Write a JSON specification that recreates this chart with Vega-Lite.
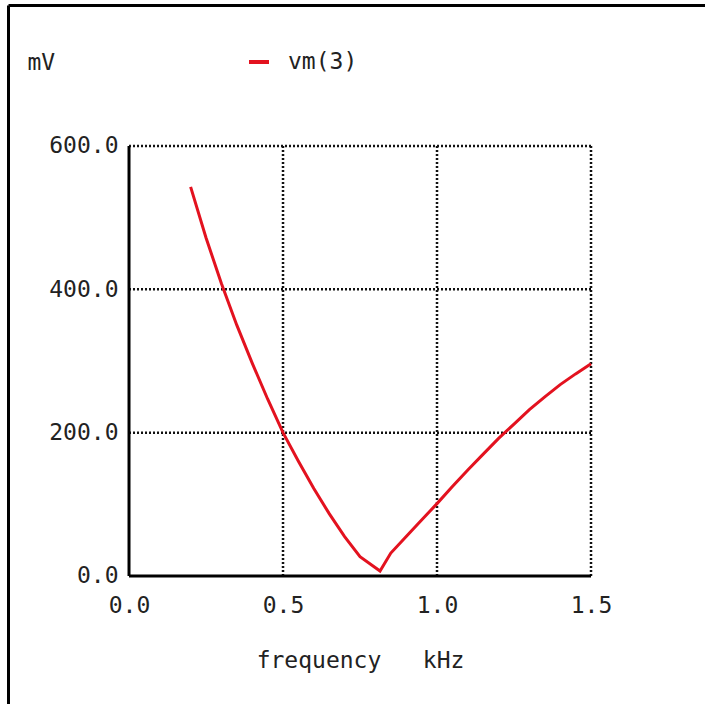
{
  "$schema": "https://vega.github.io/schema/vega-lite/v6.json",
  "autosize": {"type": "none"},
  "width": 697,
  "height": 699,
  "padding": {"left": 8, "top": 5, "right": 0, "bottom": 0},
  "background": "white",
  "config": {"view": {"stroke": null}},
  "datasets": {
    "curve": [
      {"f": 0.2, "mv": 543, "series": "vm(3)"},
      {"f": 0.25, "mv": 472, "series": "vm(3)"},
      {"f": 0.3, "mv": 408, "series": "vm(3)"},
      {"f": 0.35, "mv": 350, "series": "vm(3)"},
      {"f": 0.4, "mv": 297, "series": "vm(3)"},
      {"f": 0.45, "mv": 247, "series": "vm(3)"},
      {"f": 0.5, "mv": 200, "series": "vm(3)"},
      {"f": 0.55, "mv": 160, "series": "vm(3)"},
      {"f": 0.6, "mv": 122, "series": "vm(3)"},
      {"f": 0.65, "mv": 87, "series": "vm(3)"},
      {"f": 0.7, "mv": 55, "series": "vm(3)"},
      {"f": 0.75, "mv": 27, "series": "vm(3)"},
      {"f": 0.815, "mv": 7, "series": "vm(3)"},
      {"f": 0.85, "mv": 32, "series": "vm(3)"},
      {"f": 0.9, "mv": 55, "series": "vm(3)"},
      {"f": 0.95, "mv": 78, "series": "vm(3)"},
      {"f": 1.0, "mv": 101, "series": "vm(3)"},
      {"f": 1.05, "mv": 125, "series": "vm(3)"},
      {"f": 1.1, "mv": 148, "series": "vm(3)"},
      {"f": 1.15, "mv": 170, "series": "vm(3)"},
      {"f": 1.2, "mv": 192, "series": "vm(3)"},
      {"f": 1.25, "mv": 212, "series": "vm(3)"},
      {"f": 1.3, "mv": 232, "series": "vm(3)"},
      {"f": 1.35, "mv": 250, "series": "vm(3)"},
      {"f": 1.4, "mv": 267, "series": "vm(3)"},
      {"f": 1.45, "mv": 282, "series": "vm(3)"},
      {"f": 1.5, "mv": 296, "series": "vm(3)"}
    ],
    "hgrid": [{"mv": 200}, {"mv": 400}, {"mv": 600}],
    "vgrid": [{"f": 0.5}, {"f": 1.0}, {"f": 1.5}],
    "origin": [{"f": 0, "mv": 0}]
  },
  "resolve": {"axis": {"x": "independent", "y": "independent"}},
  "layer": [
    {
      "data": {"name": "hgrid"},
      "mark": {"type": "rule", "color": "#111", "strokeWidth": 2.5, "strokeDash": [2, 2]},
      "encoding": {
        "y": {
          "field": "mv", "type": "quantitative",
          "scale": {"domain": [-178.6, 796.7], "nice": false, "zero": false},
          "axis": {
            "orient": "left", "offset": -120, "values": [0, 200, 400, 600], "format": ".1f",
            "domain": false, "ticks": false, "grid": false, "labelPadding": 10,
            "labelFont": "DejaVu Sans Mono", "labelFontSize": 23, "labelColor": "#222",
            "labelFlush": false, "labelOverlap": false, "labelBaseline": "middle",
            "title": "mV", "titleFont": "DejaVu Sans Mono", "titleFontSize": 23,
            "titleFontWeight": "normal", "titleColor": "#222", "titleAngle": 0,
            "titleAlign": "left", "titleBaseline": "middle", "titleX": -101, "titleY": 57
          }
        },
        "x": {"datum": 0, "type": "quantitative", "axis": null,
          "scale": {"domain": [-0.3929, 1.8701], "nice": false, "zero": false}},
        "x2": {"datum": 1.5}
      }
    },
    {
      "data": {"name": "vgrid"},
      "mark": {"type": "rule", "color": "#111", "strokeWidth": 2.5, "strokeDash": [2, 2]},
      "encoding": {
        "x": {
          "field": "f", "type": "quantitative",
          "scale": {"domain": [-0.3929, 1.8701], "nice": false, "zero": false},
          "axis": {
            "orient": "bottom", "offset": -128, "values": [0, 0.5, 1.0, 1.5], "format": ".1f",
            "domain": false, "ticks": false, "grid": false, "labelPadding": 18,
            "labelFont": "DejaVu Sans Mono", "labelFontSize": 23, "labelColor": "#222",
            "labelFlush": false, "labelOverlap": false,
            "title": "frequency\u00a0\u00a0\u00a0kHz", "titleFont": "DejaVu Sans Mono", "titleFontSize": 23,
            "titleFontWeight": "normal", "titleColor": "#222",
            "titleBaseline": "middle", "titleAlign": "center", "titleX": 352, "titleY": 84
          }
        },
        "y": {"datum": 0, "type": "quantitative", "axis": null,
          "scale": {"domain": [-178.6, 796.7], "nice": false, "zero": false}},
        "y2": {"datum": 600}
      }
    },
    {
      "data": {"name": "origin"},
      "mark": {"type": "rule", "color": "#000", "strokeWidth": 3},
      "encoding": {
        "y": {"field": "mv", "type": "quantitative", "axis": null,
          "scale": {"domain": [-178.6, 796.7], "nice": false, "zero": false}},
        "x": {"field": "f", "type": "quantitative",
          "scale": {"domain": [-0.3929, 1.8701], "nice": false, "zero": false},
          "axis": {"orient": "top", "offset": 0, "domain": true, "domainColor": "#000",
            "domainWidth": 3, "labels": false, "ticks": false, "grid": false, "title": null}},
        "x2": {"datum": 1.5}
      }
    },
    {
      "data": {"name": "origin"},
      "mark": {"type": "rule", "color": "#000", "strokeWidth": 3},
      "encoding": {
        "x": {"field": "f", "type": "quantitative", "axis": null,
          "scale": {"domain": [-0.3929, 1.8701], "nice": false, "zero": false}},
        "y": {"field": "mv", "type": "quantitative",
          "scale": {"domain": [-178.6, 796.7], "nice": false, "zero": false},
          "axis": {"orient": "left", "offset": 0, "domain": true, "domainColor": "#000",
            "domainWidth": 3, "labels": false, "ticks": false, "grid": false, "title": null}},
        "y2": {"datum": 600}
      }
    },
    {
      "data": {"name": "curve"},
      "mark": {"type": "line", "strokeWidth": 3},
      "encoding": {
        "x": {"field": "f", "type": "quantitative", "axis": null,
          "scale": {"domain": [-0.3929, 1.8701], "nice": false, "zero": false}},
        "y": {"field": "mv", "type": "quantitative", "axis": null,
          "scale": {"domain": [-178.6, 796.7], "nice": false, "zero": false}},
        "color": {
          "field": "series", "type": "nominal",
          "scale": {"range": ["#e3121f"]},
          "legend": {
            "orient": "none", "legendX": 239, "legendY": 45, "title": null, "padding": 0,
            "symbolType": "stroke", "symbolSize": 400, "symbolStrokeWidth": 4,
            "labelFont": "DejaVu Sans Mono", "labelFontSize": 23, "labelColor": "#222",
            "labelOffset": 17
          }
        }
      }
    }
  ]
}
